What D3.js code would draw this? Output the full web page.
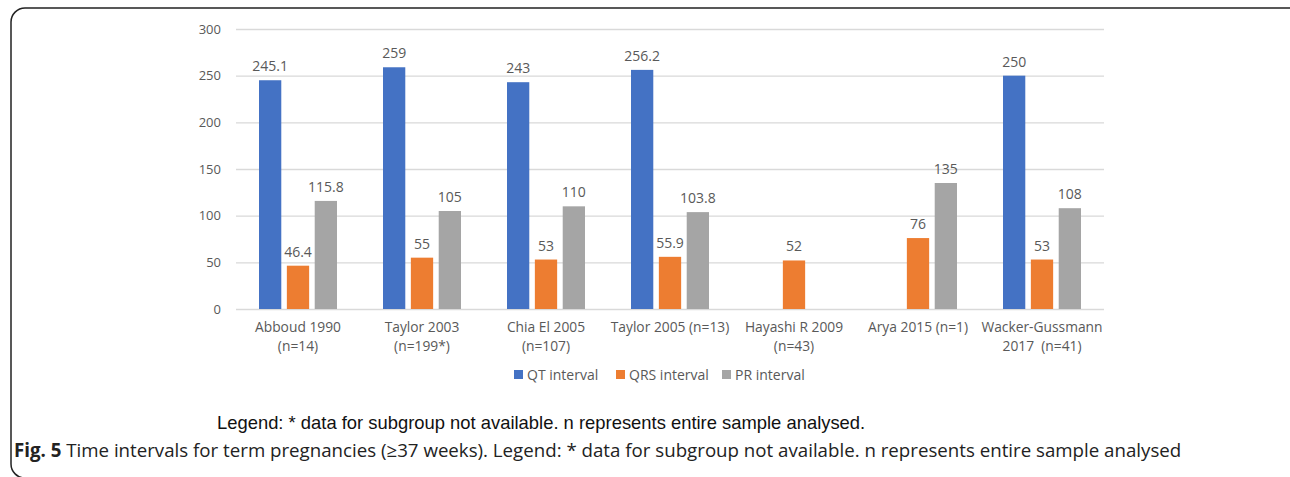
<!DOCTYPE html>
<html><head><meta charset="utf-8">
<script src="https://cdn.jsdelivr.net/npm/d3@7"></script>
<style>
body{margin:0;background:#fff;}
svg{display:block;}
text{white-space:pre;}
</style></head>
<body>
<script>
const categories = [["Abboud 1990","(n=14)"],["Taylor 2003","(n=199*)"],["Chia El 2005","(n=107)"],["Taylor 2005 (n=13)"],["Hayashi R 2009","(n=43)"],["Arya 2015 (n=1)"],["Wacker-Gussmann","2017  (n=41)"]];
const seriesNames = ["QT interval","QRS interval","PR interval"];
const qt  = [245.1, 259, 243, 256.2, null, null, 250];
const qrs = [46.4, 55, 53, 55.9, 52, 76, 53];
const pr  = [115.8, 105, 110, 103.8, null, 135, 108];
const colors = ["#4472c4","#ed7d31","#a5a5a5"];
const yTicks = [0,50,100,150,200,250,300];

(function(){
const W=1290,H=477;
const svg=d3.select("body").append("svg").attr("width",W).attr("height",H);

svg.append("rect").attr("x",11).attr("y",8).attr("width",1300).attr("height",470)
  .attr("rx",14).attr("fill","none").attr("stroke","#222").attr("stroke-width",1.5);

const pLeft=236,pRight=1104,pTop=29,pBottom=309;
const y=d3.scaleLinear().domain([0,300]).range([pBottom,pTop]);
const x0=d3.scaleBand().domain(d3.range(categories.length)).range([pLeft,pRight]).padding(0);
const x1=d3.scaleBand().domain(d3.range(3)).range([23,101]).paddingInner(0.2);

const font="'Open Sans', 'Noto Sans', sans-serif";
const g=svg.append("g");

const yAxis=d3.axisLeft(y).tickValues(yTicks).tickSize(-(pRight-pLeft)).tickPadding(15);
const ya=g.append("g").attr("transform",`translate(${pLeft},0)`).call(yAxis);
ya.select(".domain").remove();
ya.selectAll(".tick line").attr("stroke","#d9d9d9").attr("stroke-width",1.3);
ya.selectAll(".tick text").attr("fill","#595959").attr("font-family",font).attr("font-size",13);

const data=[qt,qrs,pr];
data.forEach((vals,si)=>{
  vals.forEach((v,ci)=>{
    if(v==null) return;
    const bx=x0(ci)+x1(si);
    g.append("rect").attr("x",bx).attr("y",y(v)).attr("width",x1.bandwidth()).attr("height",y(0)-y(v)).attr("fill",colors[si]);
    g.append("text").attr("x",bx+x1.bandwidth()/2).attr("y",y(v)-9).attr("text-anchor","middle")
      .attr("fill","#595959").attr("font-family",font).attr("font-size",14).text(String(v));
  });
});

categories.forEach((lines,ci)=>{
  const cx=x0(ci)+x0.bandwidth()/2;
  lines.forEach((t,li)=>{
    g.append("text").attr("x",cx).attr("y",332+li*19).attr("text-anchor","middle")
      .attr("fill","#595959").attr("font-family",font).attr("font-size",13.8).text(t);
  });
});

const legX=[514,616,722];
seriesNames.forEach((n,i)=>{
  g.append("rect").attr("x",legX[i]).attr("y",370).attr("width",9).attr("height",9).attr("fill",colors[i]);
  g.append("text").attr("x",legX[i]+13).attr("y",380).attr("fill","#595959").attr("font-family",font).attr("font-size",14).text(n);
});

svg.append("text").attr("x",217).attr("y",429).attr("font-family","'Liberation Sans', Arial, sans-serif")
  .attr("font-size",18.4).attr("fill","#111").text("Legend: * data for subgroup not available. n represents entire sample analysed.");

const cap=svg.append("text").attr("x",14).attr("y",457).attr("font-family",font).attr("font-size",18.7).attr("fill","#222");
cap.append("tspan").attr("font-weight","bold").text("Fig. 5");
cap.append("tspan").text(" Time intervals for term pregnancies (≥37 weeks). Legend: * data for subgroup not available. n represents entire sample analysed");
})();
</script>
</body></html>
